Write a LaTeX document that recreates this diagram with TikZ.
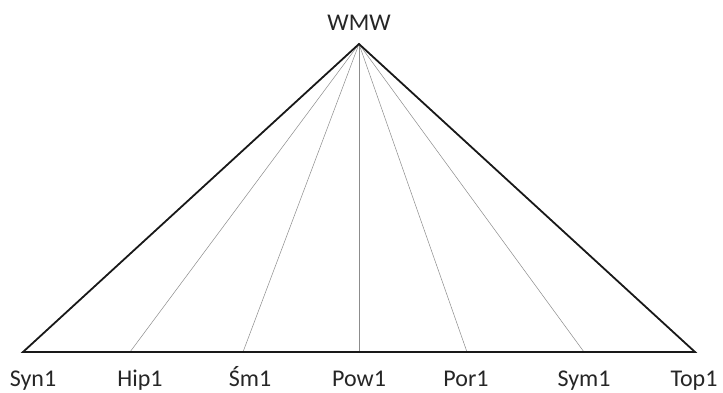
\documentclass[tikz,border=0pt]{standalone}
\usepackage{fontspec}
\setmainfont{Carlito}
\begin{document}
\begin{tikzpicture}[x=1pt,y=-1pt,
  lbl/.style={font=\fontsize{24}{26}\selectfont, text=black!85, inner sep=0pt, anchor=base},
  outline/.style={line width=1.8pt, black!90, line join=miter},
  ray/.style={line width=0.5pt, black!45}]
\useasboundingbox[fill=white] (0,0) rectangle (723,393);
\coordinate (A) at (359,44);
\coordinate (P0) at (23,352);
\coordinate (P1) at (130,352);
\coordinate (P2) at (243,352);
\coordinate (P3) at (359,352);
\coordinate (P4) at (467,352);
\coordinate (P5) at (584,352);
\coordinate (P6) at (695,352);
\foreach \i in {1,...,5} \draw[ray] (A) -- (P\i);
\draw[outline] (P0) -- (A) -- (P6) -- cycle;
\node[lbl] (wmw) at (359,31) {WMW};
\node[lbl] (l0) at (33,386) {Syn1};
\node[lbl] (l1) at (140,386) {Hip1};
\node[lbl] (l2) at (250,386) {Śm1};
\node[lbl] (l3) at (359,386) {Pow1};
\node[lbl] (l4) at (466,386) {Por1};
\node[lbl] (l5) at (584,386) {Sym1};
\node[lbl] (l6) at (694,386) {Top1};
\end{tikzpicture}
\end{document}
